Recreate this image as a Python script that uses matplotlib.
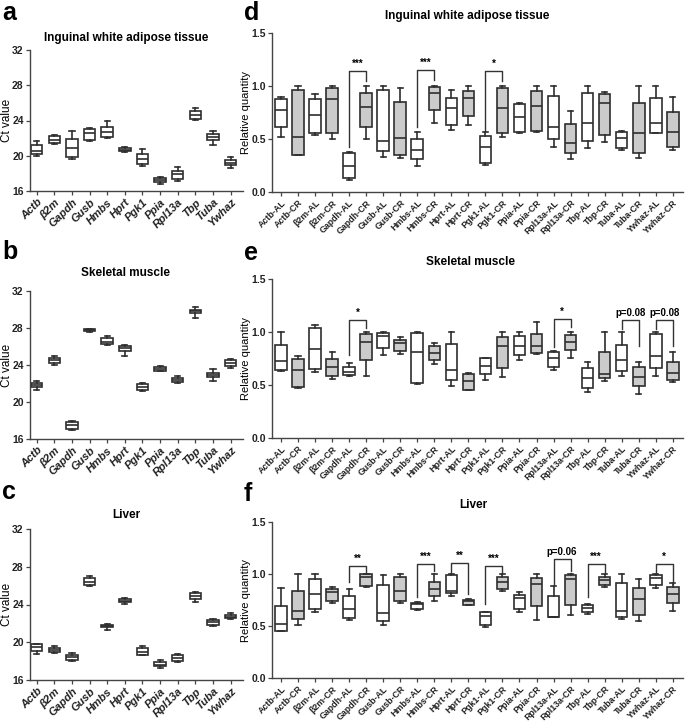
import matplotlib
matplotlib.use('Agg')
import matplotlib.pyplot as plt

plt.rcParams['font.family'] = ['Liberation Sans Narrow', 'Liberation Sans', 'DejaVu Sans']
plt.rcParams['font.weight'] = 'bold'

genes = ['Actb', 'β2m', 'Gapdh', 'Gusb', 'Hmbs', 'Hprt', 'Pgk1', 'Ppia',
         'Rpl13a', 'Tbp', 'Tuba', 'Ywhaz']
diets = ['AL', 'CR']

# Ct values, one row per gene: [min, q1, median, q3, max]
ct_adipose = [
    [20.0, 20.2, 20.5, 21.2, 21.7],
    [21.3, 21.4, 21.8, 22.2, 22.3],
    [19.6, 19.9, 20.9, 21.9, 22.8],
    [21.7, 21.8, 22.6, 23.0, 23.2],
    [22.0, 22.1, 22.7, 23.3, 23.9],
    [20.4, 20.5, 20.7, 20.9, 21.0],
    [18.8, 19.1, 19.6, 20.2, 20.8],
    [16.8, 17.0, 17.2, 17.5, 17.6],
    [17.1, 17.4, 17.9, 18.3, 18.7],
    [24.1, 24.2, 24.6, 25.1, 25.4],
    [21.2, 21.8, 22.1, 22.5, 22.8],
    [18.6, 18.9, 19.2, 19.5, 19.9],
]
ct_muscle = [
    [21.3, 21.6, 21.8, 22.1, 22.3],
    [24.0, 24.2, 24.5, 24.8, 25.0],
    [17.0, 17.1, 17.5, 17.8, 17.9],
    [27.6, 27.65, 27.75, 27.85, 27.9],
    [26.2, 26.3, 26.5, 26.9, 27.1],
    [25.0, 25.5, 25.8, 26.1, 26.2],
    [21.2, 21.3, 21.6, 21.9, 22.1],
    [23.3, 23.4, 23.6, 23.75, 23.9],
    [22.1, 22.2, 22.4, 22.6, 22.8],
    [29.1, 29.6, 29.8, 30.0, 30.3],
    [22.3, 22.7, 22.9, 23.1, 23.6],
    [23.7, 23.9, 24.2, 24.5, 24.6],
]
ct_liver = [
    [18.8, 19.1, 19.5, 19.8, 19.85],
    [18.9, 19.0, 19.2, 19.4, 19.6],
    [18.0, 18.1, 18.4, 18.7, 18.9],
    [26.0, 26.1, 26.4, 26.8, 27.0],
    [21.3, 21.6, 21.7, 21.85, 21.9],
    [24.1, 24.3, 24.4, 24.55, 24.7],
    [18.6, 18.7, 19.0, 19.4, 19.6],
    [17.3, 17.45, 17.6, 17.9, 18.1],
    [17.9, 18.0, 18.3, 18.7, 18.75],
    [24.3, 24.6, 24.9, 25.2, 25.3],
    [21.7, 21.8, 22.1, 22.4, 22.5],
    [22.5, 22.6, 22.7, 22.85, 23.1],
]

# relative quantity, rows ordered gene-AL, gene-CR: [min, q1, median, q3, max]
rq_adipose = [
    [0.52, 0.61, 0.77, 0.877, 0.895],
    [0.345, 0.35, 0.52, 0.965, 1.0],
    [0.54, 0.554, 0.73, 0.877, 0.92],
    [0.503, 0.554, 0.877, 0.98, 1.0],
    [0.11, 0.133, 0.25, 0.364, 0.38],
    [0.497, 0.61, 0.80, 0.934, 1.0],
    [0.33, 0.39, 0.48, 0.96, 1.0],
    [0.32, 0.348, 0.506, 0.85, 0.98],
    [0.247, 0.307, 0.40, 0.497, 0.563],
    [0.655, 0.772, 0.934, 0.99, 1.0],
    [0.582, 0.636, 0.79, 0.89, 0.96],
    [0.636, 0.715, 0.886, 0.952, 1.0],
    [0.256, 0.275, 0.427, 0.53, 0.563],
    [0.522, 0.56, 0.79, 0.98, 1.0],
    [0.554, 0.563, 0.706, 0.83, 0.84],
    [0.57, 0.58, 0.807, 0.95, 1.0],
    [0.427, 0.497, 0.61, 0.91, 1.0],
    [0.31, 0.37, 0.459, 0.642, 0.76],
    [0.418, 0.484, 0.649, 0.934, 1.0],
    [0.475, 0.54, 0.84, 0.92, 0.946],
    [0.40, 0.415, 0.51, 0.57, 0.58],
    [0.32, 0.37, 0.56, 0.84, 1.0],
    [0.554, 0.56, 0.649, 0.886, 1.0],
    [0.40, 0.42, 0.563, 0.753, 0.895],
]
rq_muscle = [
    [0.63, 0.638, 0.726, 0.877, 1.0],
    [0.475, 0.48, 0.645, 0.75, 0.77],
    [0.626, 0.654, 0.843, 1.035, 1.066],
    [0.557, 0.588, 0.67, 0.75, 0.808],
    [0.585, 0.59, 0.622, 0.667, 0.707],
    [0.582, 0.733, 0.91, 0.985, 1.0],
    [0.786, 0.852, 0.96, 0.99, 1.0],
    [0.796, 0.818, 0.896, 0.928, 0.95],
    [0.506, 0.519, 0.808, 0.987, 1.0],
    [0.70, 0.739, 0.80, 0.865, 0.896],
    [0.494, 0.544, 0.645, 0.89, 1.0],
    [0.45, 0.456, 0.538, 0.607, 0.613],
    [0.55, 0.607, 0.682, 0.752, 0.752],
    [0.575, 0.657, 0.865, 0.953, 1.0],
    [0.733, 0.783, 0.865, 0.959, 1.0],
    [0.79, 0.80, 0.865, 0.984, 1.09],
    [0.638, 0.667, 0.755, 0.808, 0.824],
    [0.758, 0.833, 0.909, 0.975, 1.0],
    [0.437, 0.469, 0.563, 0.66, 0.714],
    [0.538, 0.569, 0.607, 0.811, 1.0],
    [0.582, 0.635, 0.739, 0.877, 1.0],
    [0.415, 0.487, 0.575, 0.67, 0.714],
    [0.582, 0.66, 0.77, 0.984, 1.0],
    [0.525, 0.544, 0.613, 0.714, 0.814],
]
rq_liver = [
    [0.45, 0.456, 0.516, 0.692, 0.862],
    [0.51, 0.566, 0.64, 0.84, 1.0],
    [0.63, 0.667, 0.81, 0.95, 1.0],
    [0.723, 0.736, 0.83, 0.855, 0.877],
    [0.557, 0.579, 0.66, 0.79, 0.855],
    [0.871, 0.887, 0.975, 1.0, 1.0],
    [0.51, 0.547, 0.626, 0.893, 0.987],
    [0.717, 0.736, 0.84, 0.975, 1.0],
    [0.65, 0.667, 0.711, 0.723, 0.73],
    [0.745, 0.79, 0.855, 0.925, 1.0],
    [0.79, 0.818, 0.84, 0.994, 1.0],
    [0.698, 0.704, 0.736, 0.75, 0.755],
    [0.49, 0.51, 0.597, 0.635, 0.635],
    [0.833, 0.855, 0.925, 0.975, 1.0],
    [0.635, 0.667, 0.774, 0.80, 0.824],
    [0.56, 0.692, 0.902, 0.965, 1.0],
    [0.585, 0.588, 0.588, 0.79, 0.88],
    [0.61, 0.704, 0.956, 0.99, 1.0],
    [0.62, 0.635, 0.673, 0.704, 0.711],
    [0.871, 0.893, 0.943, 0.975, 1.0],
    [0.566, 0.59, 0.64, 0.912, 1.0],
    [0.547, 0.61, 0.755, 0.862, 0.956],
    [0.868, 0.893, 0.962, 0.994, 1.0],
    [0.648, 0.723, 0.811, 0.871, 0.912],
]

# significance brackets: (gene index, label, top, AL leg end, CR leg end)
sig_adipose = [(2, '***', 1.14, 0.42, 1.05), (4, '***', 1.15, 0.61, 1.06),
               (6, '*', 1.14, 0.57, 1.05)]
sig_muscle = [(2, '*', 1.11, 0.78, 1.035), (8, '*', 1.125, 0.855, 1.05),
              (10, 'p=0.08', 1.11, 1.03, 0.87), (11, 'p=0.08', 1.11, 1.03, 0.87)]
sig_liver = [(2, '**', 1.08, 0.92, 1.01), (4, '***', 1.095, 0.78, 1.025),
             (5, '**', 1.108, 1.006, 0.81), (6, '***', 1.08, 0.715, 1.0),
             (8, 'p=0.06', 1.14, 0.9, 1.03), (9, '***', 1.095, 0.78, 1.006),
             (11, '*', 1.10, 1.006, 0.905)]

W, H = 685, 725
EDGE = '#2e2e2e'
GREY = '#cbcbcb'


def ax_at(fig, left, top, right, bottom):
    return fig.add_axes([left / W, 1 - bottom / H, (right - left) / W, (bottom - top) / H])


def make_stats(rows):
    return [dict(whislo=r[0], q1=r[1], med=r[2], q3=r[3], whishi=r[4]) for r in rows]


def boxes(ax, rows, positions, width, colors):
    art = ax.bxp(make_stats(rows), positions=positions, widths=width, capwidths=width * 0.45,
                 patch_artist=True, showfliers=False, manage_ticks=False,
                 boxprops=dict(edgecolor=EDGE, linewidth=1.2),
                 medianprops=dict(color=EDGE, linewidth=1.2),
                 whiskerprops=dict(color=EDGE, linewidth=1.2),
                 capprops=dict(color=EDGE, linewidth=1.2))
    for patch, c in zip(art['boxes'], colors):
        patch.set_facecolor(c)


def style(ax, size):
    for s in ['top', 'right']:
        ax.spines[s].set_visible(False)
    for s in ['left', 'bottom']:
        ax.spines[s].set_color('#444444')
        ax.spines[s].set_linewidth(1.0)
    ax.tick_params(direction='out', length=3, width=0.9, colors='#444444',
                   labelcolor='#222222', labelsize=size, pad=1.5)


def ct_panel(ax, rows, title, ty):
    pos = list(range(1, len(genes) + 1))
    boxes(ax, rows, pos, 0.65, ['white'] * len(rows))
    ax.set_xlim(0.62, 12.7)
    ax.set_ylim(16, 32)
    ax.set_yticks([16, 20, 24, 28, 32])
    ax.set_xticks(pos)
    style(ax, 7.5)
    ax.set_xticklabels(genes, rotation=45, ha='right', rotation_mode='anchor',
                       style='italic', fontsize=8)
    ax.set_ylabel('Ct value', fontsize=8.5)
    ax.yaxis.set_label_coords(-0.082, 0.5)
    ax.text(0.45, ty, title, transform=ax.transAxes, ha='center', va='center', fontsize=8.5)


def rq_panel(ax, rows, sigs, title, tx):
    pos = list(range(1, len(rows) + 1))
    colors = ['white' if i % 2 == 0 else GREY for i in range(len(rows))]
    boxes(ax, rows, pos, 0.68, colors)
    ax.set_xlim(0.47, 24.6)
    ax.set_ylim(0, 1.5)
    ax.set_yticks([0, 0.5, 1.0, 1.5])
    ax.set_yticklabels(['0.0', '0.5', '1.0', '1.5'])
    ax.set_xticks(pos)
    style(ax, 7.5)
    ax.set_xticklabels(['%s-%s' % (g, d) for g in genes for d in diets], rotation=45,
                       ha='right', rotation_mode='anchor', fontsize=6.4)
    ax.set_ylabel('Relative quantity', fontsize=8)
    ax.yaxis.set_label_coords(-0.05, 0.5)
    for gi, label, top, left_end, right_end in sigs:
        x1, x2 = 2 * gi + 1, 2 * gi + 2
        ax.plot([x1, x1, x2, x2], [left_end, top, top, right_end], color='#333333',
                lw=1.0, clip_on=False)
        ax.text((x1 + x2) / 2, top + 0.02, label, ha='center', va='bottom', fontsize=7)
    ax.text(tx, 1.11, title, transform=ax.transAxes, ha='center', va='center', fontsize=8.5)


fig = plt.figure(figsize=(W / 100, H / 100), dpi=100)

ax_a = ax_at(fig, 30, 50, 243, 191)
ax_b = ax_at(fig, 30, 291, 243, 439)
ax_c = ax_at(fig, 30, 529, 243, 680)
ax_d = ax_at(fig, 272, 33, 683, 192)
ax_e = ax_at(fig, 272, 279, 683, 438)
ax_f = ax_at(fig, 272, 522, 683, 678)

ct_panel(ax_a, ct_adipose, 'Inguinal white adipose tissue', 1.085)
ct_panel(ax_b, ct_muscle, 'Skeletal muscle', 1.12)
ct_panel(ax_c, ct_liver, 'Liver', 1.09)
rq_panel(ax_d, rq_adipose, sig_adipose, 'Inguinal white adipose tissue', 0.475)
rq_panel(ax_e, rq_muscle, sig_muscle, 'Skeletal muscle', 0.484)
rq_panel(ax_f, rq_liver, sig_liver, 'Liver', 0.49)

for letter, x, y in [('a', 2, 13), ('b', 2, 252), ('c', 2, 492),
                     ('d', 244, 13), ('e', 244, 253), ('f', 244, 494)]:
    fig.text(x / W, 1 - y / H, letter, ha='left', va='center', fontsize=18,
             fontweight='bold', family=['Liberation Sans', 'DejaVu Sans'])

fig.savefig('out.png', dpi=100)
